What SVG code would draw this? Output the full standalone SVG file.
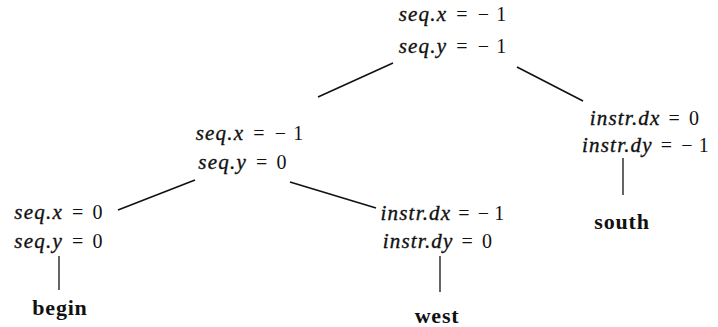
<svg xmlns="http://www.w3.org/2000/svg" width="718" height="327" viewBox="0 0 718 327">
<style>
text{font-family:"Liberation Serif","Times New Roman",serif;font-size:20px;fill:#111;text-anchor:middle;letter-spacing:1.2px}
.v{font-style:italic;font-size:21px;stroke:#111;stroke-width:0.35px}
.b{font-weight:bold;font-size:22px;letter-spacing:0.8px}
.e line{stroke:#111;stroke-width:1.6}
.e .s{stroke-width:1.3}
</style>
<rect width="718" height="327" fill="#fff"/>
<g id="root">
<text x="453" y="21"><tspan class="v">seq.x</tspan><tspan dx="9">=</tspan><tspan dx="9">−</tspan><tspan dx="6">1</tspan></text>
<text x="453" y="53"><tspan class="v">seq.y</tspan><tspan dx="9">=</tspan><tspan dx="9">−</tspan><tspan dx="6">1</tspan></text>
</g>
<g id="n1">
<text x="250" y="140"><tspan class="v">seq.x</tspan><tspan dx="9">=</tspan><tspan dx="9">−</tspan><tspan dx="6">1</tspan></text>
<text x="243" y="169"><tspan class="v">seq.y</tspan><tspan dx="9">=</tspan><tspan dx="8">0</tspan></text>
</g>
<g id="n2">
<text x="645" y="125"><tspan class="v">instr.dx</tspan><tspan dx="8">=</tspan><tspan dx="8">0</tspan></text>
<text x="646" y="152"><tspan class="v">instr.dy</tspan><tspan dx="8">=</tspan><tspan dx="8">−</tspan><tspan dx="5">1</tspan></text>
</g>
<g id="n3">
<text x="59" y="219"><tspan class="v">seq.x</tspan><tspan dx="9">=</tspan><tspan dx="8">0</tspan></text>
<text x="59" y="248"><tspan class="v">seq.y</tspan><tspan dx="9">=</tspan><tspan dx="8">0</tspan></text>
</g>
<g id="n4">
<text x="443" y="220"><tspan class="v">instr.dx</tspan><tspan dx="7">=</tspan><tspan dx="7">−</tspan><tspan dx="4">1</tspan></text>
<text x="438" y="248"><tspan class="v">instr.dy</tspan><tspan dx="8">=</tspan><tspan dx="8">0</tspan></text>
</g>
<g id="south"><text class="b" x="622" y="229">south</text></g>
<g id="begin"><text class="b" x="60" y="315">begin</text></g>
<g id="west"><text class="b" x="437" y="323">west</text></g>
<g id="connectors" class="e">
<line x1="393" y1="63" x2="318" y2="97"/>
<line x1="517" y1="67" x2="583" y2="101"/>
<line x1="195" y1="180" x2="118" y2="210"/>
<line x1="290" y1="182" x2="376" y2="208"/>
<line class="s" x1="623" y1="158" x2="623" y2="195"/>
<line class="s" x1="59" y1="256" x2="59" y2="290"/>
<line class="s" x1="440" y1="256" x2="440" y2="292"/>
</g>
</svg>
